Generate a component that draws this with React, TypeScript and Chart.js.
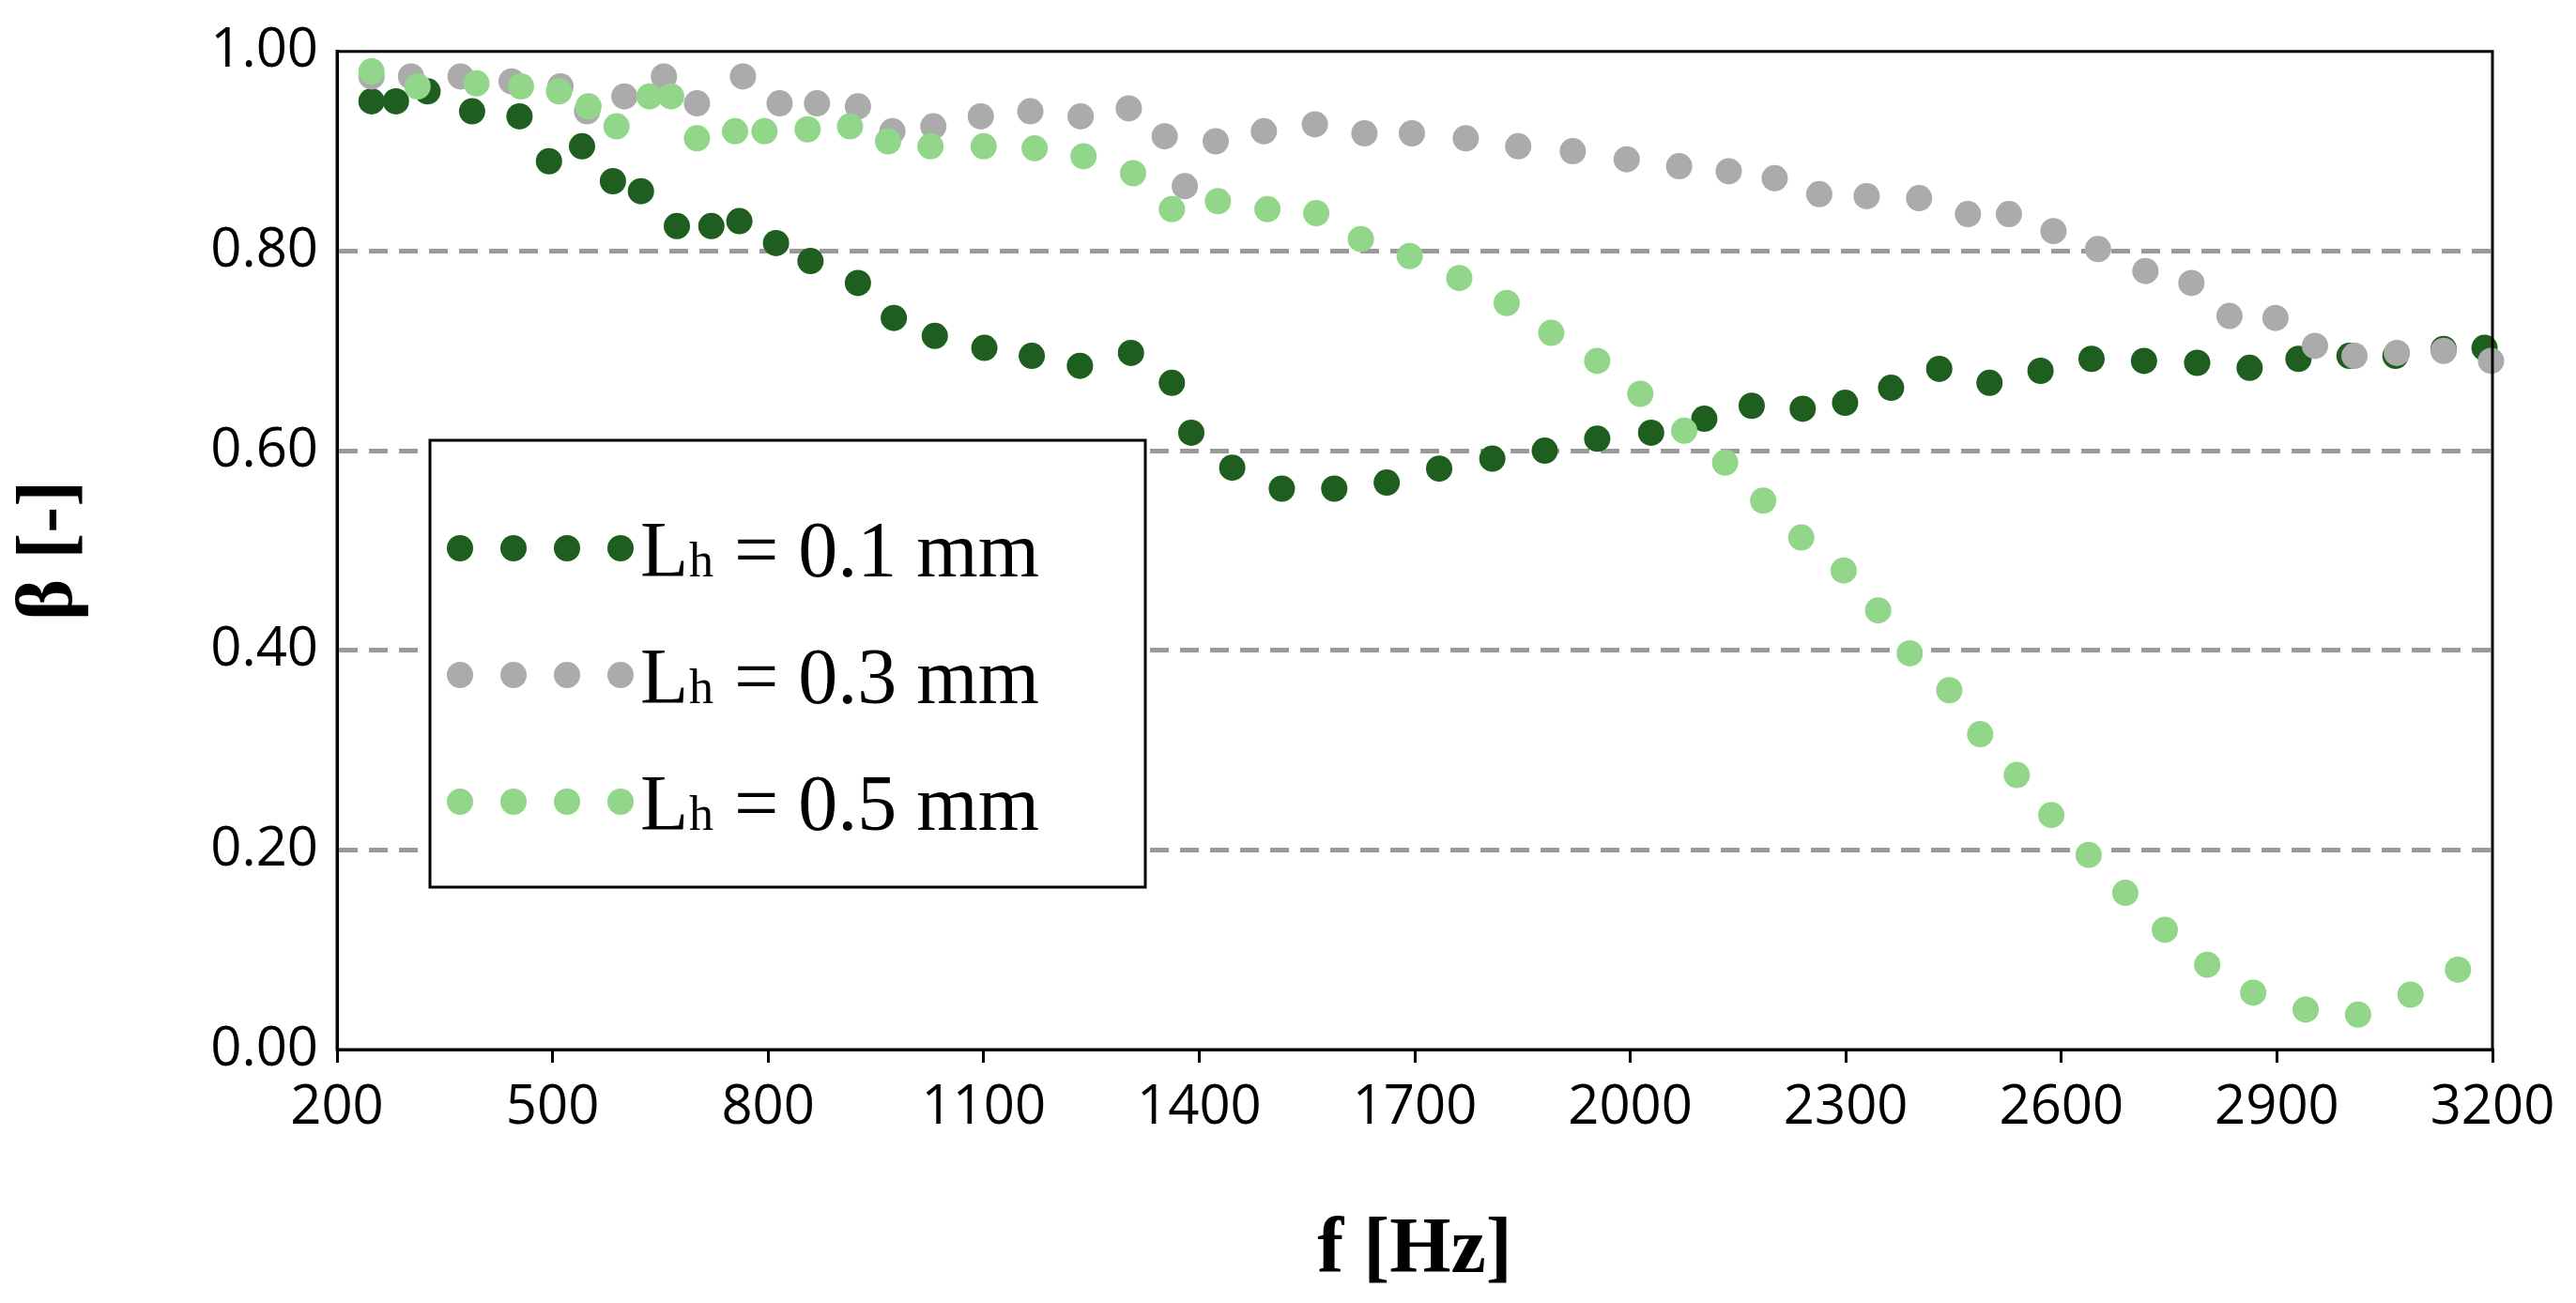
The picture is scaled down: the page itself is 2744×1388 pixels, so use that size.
import React, { useEffect, useRef } from "react";
import { Chart, registerables } from "chart.js";
Chart.register(...registerables);

const f1 = [248,282,326,388,454,495,541,584,623,673,721,760,811,859,925,975,1032,1101,1167,1234,1305,1362,1389,1446,1515,1588,1661,1734,1808,1881,1954,2029,2103,2169,2240,2299,2363,2430,2500,2571,2642,2715,2789,2862,2930,3001,3065,3132,3189];
const b1 = [0.95,0.95,0.96,0.94,0.935,0.89,0.905,0.87,0.86,0.825,0.825,0.83,0.808,0.79,0.768,0.733,0.715,0.703,0.695,0.685,0.698,0.668,0.618,0.583,0.562,0.562,0.568,0.582,0.592,0.6,0.612,0.618,0.632,0.645,0.642,0.648,0.663,0.682,0.668,0.68,0.692,0.69,0.688,0.683,0.692,0.695,0.695,0.702,0.703];
const f3 = [248,303,372,443,511,548,600,655,701,765,816,868,925,973,1030,1096,1165,1235,1302,1352,1380,1423,1490,1561,1630,1696,1771,1844,1920,1995,2068,2137,2201,2263,2329,2402,2470,2527,2589,2651,2717,2781,2834,2898,2953,3008,3067,3132,3198];
const b3 = [0.975,0.975,0.975,0.97,0.965,0.94,0.955,0.975,0.948,0.975,0.948,0.948,0.945,0.92,0.925,0.935,0.94,0.935,0.943,0.915,0.865,0.91,0.92,0.927,0.918,0.918,0.913,0.905,0.9,0.892,0.885,0.88,0.873,0.857,0.855,0.853,0.837,0.837,0.82,0.802,0.78,0.768,0.735,0.733,0.705,0.695,0.698,0.7,0.69];
const f5 = [248,312,394,456,509,550,589,635,665,701,754,795,855,914,967,1026,1100,1171,1239,1308,1362,1426,1495,1563,1625,1693,1762,1828,1890,1954,2014,2075,2132,2185,2238,2297,2345,2389,2444,2487,2538,2586,2638,2689,2744,2803,2867,2940,3013,3086,3152];
const b5 = [0.98,0.965,0.968,0.965,0.96,0.945,0.925,0.955,0.955,0.913,0.92,0.92,0.922,0.925,0.91,0.905,0.905,0.903,0.895,0.878,0.842,0.85,0.842,0.838,0.812,0.795,0.773,0.748,0.718,0.69,0.657,0.62,0.588,0.55,0.513,0.48,0.44,0.397,0.36,0.316,0.275,0.235,0.195,0.157,0.12,0.085,0.057,0.04,0.035,0.055,0.08];
const xTicks = [200,500,800,1100,1400,1700,2000,2300,2600,2900,3200];
const labels = ["0.1", "0.3", "0.5"];
const colors = ["#1e5e1e", "#ababab", "#92d68a"];

const pts = (f: number[], b: number[]) => f.map((x, i) => ({ x, y: b[i] }));

const decor = {
  id: "decor",
  afterDraw(chart: any) {
    const { ctx, chartArea: a } = chart;
    ctx.save();
    ctx.strokeStyle = "#000";
    ctx.lineWidth = 3;
    ctx.strokeRect(a.left, a.top, a.right - a.left, a.bottom - a.top);
    const lx = 458, ly = 469, lw = 762, lh = 476;
    ctx.fillStyle = "#fff";
    ctx.fillRect(lx, ly, lw, lh);
    ctx.strokeRect(lx, ly, lw, lh);
    labels.forEach((l, i) => {
      const y = ly + 115 + i * 135;
      ctx.fillStyle = colors[i];
      for (let k = 0; k < 4; k++) {
        ctx.beginPath();
        ctx.arc(490 + k * 57, y, 14, 0, Math.PI * 2);
        ctx.fill();
      }
      ctx.fillStyle = "#000";
      ctx.textBaseline = "alphabetic";
      ctx.font = "84px 'Liberation Serif'";
      ctx.fillText("L", 682, y + 30);
      ctx.font = "52px 'Liberation Serif'";
      ctx.fillText("h", 734, y + 30);
      ctx.font = "84px 'Liberation Serif'";
      ctx.fillText("= " + l + " mm", 782, y + 30);
    });
    ctx.restore();
  },
};

export default function App() {
  const ref = useRef<HTMLCanvasElement>(null);
  useEffect(() => {
    const ch = new Chart(ref.current!, {
      type: "scatter",
      data: {
        datasets: [
          { data: pts(f5, b5), backgroundColor: colors[2], borderWidth: 0, pointRadius: 14 },
          { data: pts(f3, b3), backgroundColor: colors[1], borderWidth: 0, pointRadius: 14 },
          { data: pts(f1, b1), backgroundColor: colors[0], borderWidth: 0, pointRadius: 14 },
        ] as any,
      },
      options: {
        animation: false,
        responsive: false,
        clip: false as any,
        layout: { padding: { top: 38, right: 89, left: 0, bottom: 0 } },
        plugins: { legend: { display: false }, tooltip: { enabled: false } },
        scales: {
          x: {
            type: "linear", min: 200, max: 3200,
            afterBuildTicks: (s: any) => { s.ticks = xTicks.map((v) => ({ value: v })); },
            ticks: { color: "#000", font: { size: 58, family: "'Open Sans'" }, padding: 14, maxRotation: 0, callback: (v: any) => String(v) },
            grid: { display: true, drawOnChartArea: false, tickLength: 14, color: "#000", lineWidth: 3 },
            border: { color: "#000", width: 3 },
            title: { display: true, text: "f [Hz]", color: "#000", font: { size: 84, weight: "bold", family: "'Liberation Serif'" }, padding: { top: 0 } },
            afterFit: (s: any) => { s.height = 1388 - 1118; },
          },
          y: {
            min: 0, max: 1,
            ticks: { stepSize: 0.2, color: "#000", font: { size: 58, family: "'Open Sans'" }, padding: 20, callback: (v: any) => Number(v).toFixed(2) },
            grid: { drawTicks: false, color: (c: any) => (c.tick.value > 0.01 && c.tick.value < 0.99 ? "#9a9a9a" : "rgba(0,0,0,0)"), lineWidth: 5 },
            border: { color: "#000", width: 3, dash: [20, 12] } as any,
            title: { display: true, text: "β [-]", color: "#000", font: { size: 84, weight: "bold", family: "'Liberation Serif'" } },
            afterFit: (s: any) => { s.width = 359; },
          },
        },
      },
      plugins: [decor],
    });
    return () => ch.destroy();
  }, []);
  return <canvas ref={ref} width={2744} height={1388} style={{ position: "fixed", left: 0, top: 0, width: 2744, height: 1388 }} />;
}
